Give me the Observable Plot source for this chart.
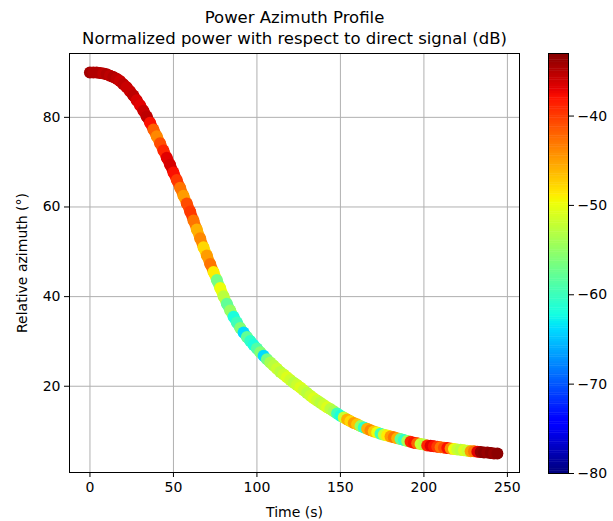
<!DOCTYPE html>
<html>
<head>
<meta charset="utf-8">
<script src="https://cdn.jsdelivr.net/npm/d3@7"></script>
<script src="https://cdn.jsdelivr.net/npm/@observablehq/plot@0.6"></script>
<style>
  html, body { margin: 0; padding: 0; background: #fff; }
  #wrap { display: flex; width: 613px; height: 521px; }
  #wrap svg { display: block; }
</style>
</head>
<body>
<div id="wrap"></div>
<script>
// ---- data ----
const titleLines = ["Power Azimuth Profile", "Normalized power with respect to direct signal (dB)"];
const xLabel = "Time (s)";
const yLabel = "Relative azimuth (°)";
const xTicks = [0, 50, 100, 150, 200, 250];
const yTicks = [20, 40, 60, 80];
const cbarTicks = [-80, -70, -60, -50, -40];
const powerDomain = [-80, -33];

// time (s), sampled every 2 s
const time = [
  0,2,4,6,8,10,12,14,16,18,20,22,24,26,28,30,32,34,36,38,40,42,44,46,48,50,
  52,54,56,58,60,62,64,66,68,70,72,74,76,78,80,82,84,86,88,90,92,94,96,98,100,
  102,104,106,108,110,112,114,116,118,120,122,124,126,128,130,132,134,136,138,140,
  142,144,146,148,150,152,154,156,158,160,162,164,166,168,170,172,174,176,178,180,
  182,184,186,188,190,192,194,196,198,200,202,204,206,208,210,212,214,216,218,220,
  222,224,226,228,230,232,234,236,238,240,242,244
];
// relative azimuth (deg)
const azimuth = [
  90.0,90.0,90.0,89.9,89.8,89.6,89.3,89.0,88.6,88.1,87.4,86.7,85.8,84.9,83.8,82.7,81.5,80.2,78.8,77.3,75.8,74.2,72.6,71.0,69.4,67.7,
  66.0,64.3,62.5,60.8,59.0,57.0,55.0,53.0,51.0,49.2,47.3,45.5,43.7,41.9,40.1,38.4,36.9,35.5,34.2,33.0,32.0,31.0,30.1,29.2,28.4,
  27.6,26.8,26.0,25.3,24.6,23.9,23.2,22.6,22.0,21.4,20.8,20.3,19.7,19.1,18.5,17.9,17.3,16.8,16.3,15.8,
  15.3,14.9,14.4,13.9,13.4,13.0,12.6,12.2,11.8,11.5,11.1,10.8,10.5,10.2,9.9,9.7,9.4,9.2,9.0,8.8,
  8.6,8.4,8.2,8.0,7.8,7.6,7.4,7.3,7.1,7.0,6.8,6.7,6.6,6.5,6.4,6.3,6.2,6.1,6.0,5.9,
  5.8,5.7,5.6,5.5,5.5,5.4,5.3,5.2,5.2,5.1,5.0,5.0
];
// normalized power (dB)
const power = [
  -34.5,-35,-35,-35,-35.5,-35,-35.5,-35,-35.5,-36,-35.5,-36,-36,-35.5,-36.5,-37,-36,-35.5,-38,-42,-44,-41,-39,-37,-36.5,-38,
  -40,-43,-45,-41,-40,-43,-46,-44,-48,-45,-43,-49,-57,-50,-53,-58,-55,-62,-60,-56,-64,-58,-61,-62,-59,
  -56,-64,-57,-54,-53,-52,-53,-52,-51,-52,-53,-52,-51,-52,-53,-52,-51,-52,-53,-52,
  -51,-53,-54,-60,-62,-52,-46,-48,-45,-47,-55,-61,-46,-44,-47,-50,-60,-52,-49,-45,
  -43,-46,-58,-61,-54,-39,-38,-42,-52,-53,-39,-37,-38,-40,-43,-41,-38,-44,-50,-52,
  -53,-51,-52,-45,-43,-37,-34,-33.5,-34,-33.5,-34,-33.5
];

const points = time.map((t, i) => ({time: t, azimuth: azimuth[i], power: power[i]}));

// matplotlib "jet" colormap
function piece(t, stops) {
  for (let i = 1; i < stops.length; i++) {
    if (t <= stops[i][0]) {
      const [t0, v0] = stops[i - 1], [t1, v1] = stops[i];
      return v0 + (v1 - v0) * (t - t0) / (t1 - t0);
    }
  }
  return stops[stops.length - 1][1];
}
function jet(t) {
  t = Math.max(0, Math.min(1, t));
  const r = piece(t, [[0,0],[0.35,0],[0.66,1],[0.89,1],[1,0.5]]);
  const g = piece(t, [[0,0],[0.125,0],[0.375,1],[0.64,1],[0.91,0],[1,0]]);
  const b = piece(t, [[0,0.5],[0.11,1],[0.34,1],[0.65,0],[1,0]]);
  return `rgb(${Math.round(r*255)},${Math.round(g*255)},${Math.round(b*255)})`;
}
const colorScale = {type: "linear", domain: powerDomain, interpolate: () => jet};

const font = {fontFamily: "'DejaVu Sans', sans-serif", fontSize: "14px", color: "#000", background: "#fff"};

const main = Plot.plot({
  width: 540,
  height: 521,
  marginLeft: 69,
  marginRight: 21,
  marginTop: 53,
  marginBottom: 49,
  style: font,
  x: {domain: [-12.25, 257.25]},
  y: {domain: [0.75, 94.25]},
  color: colorScale,
  marks: [
    Plot.gridX(xTicks, {stroke: "#b0b0b0", strokeOpacity: 1, strokeWidth: 1}),
    Plot.gridY(yTicks, {stroke: "#b0b0b0", strokeOpacity: 1, strokeWidth: 1}),
    Plot.line(points, {x: "time", y: "azimuth", stroke: "power", z: null, strokeWidth: 11, strokeLinecap: "round", strokeLinejoin: "round"}),
    Plot.dot(points, {x: "time", y: "azimuth", fill: "power", r: 6, stroke: null}),
    Plot.frame({stroke: "#000", strokeWidth: 1}),
    Plot.axisX(xTicks, {tickSize: 5, tickPadding: 5, fontSize: 14, label: xLabel, labelAnchor: "center", labelArrow: "none", labelOffset: 44}),
    Plot.axisY(yTicks, {tickSize: 5, tickPadding: 4, fontSize: 14, label: yLabel, labelAnchor: "center", labelArrow: "none", labelOffset: 52}),
    Plot.text([titleLines[0]], {text: d => d, frameAnchor: "top", dy: -36, fontSize: 16.5, lineAnchor: "middle"}),
    Plot.text([titleLines[1]], {text: d => d, frameAnchor: "top", dy: -15, fontSize: 16.5, lineAnchor: "middle"})
  ]
});

const steps = d3.range(powerDomain[0], powerDomain[1], 0.25);
const cbar = Plot.plot({
  width: 73,
  height: 521,
  marginLeft: 8,
  marginRight: 45,
  marginTop: 53,
  marginBottom: 48,
  style: font,
  x: {domain: [0, 1], axis: null},
  y: {domain: powerDomain},
  color: colorScale,
  marks: [
    Plot.rect(steps, {x1: 0, x2: 1, y1: d => d, y2: d => Math.min(d + 0.3, powerDomain[1]), fill: d => d}),
    Plot.frame({stroke: "#000", strokeWidth: 1}),
    Plot.axisY(cbarTicks, {anchor: "right", tickSize: 5, tickPadding: 4, fontSize: 14, label: null})
  ]
});

document.getElementById("wrap").append(main, cbar);
</script>
</body>
</html>
